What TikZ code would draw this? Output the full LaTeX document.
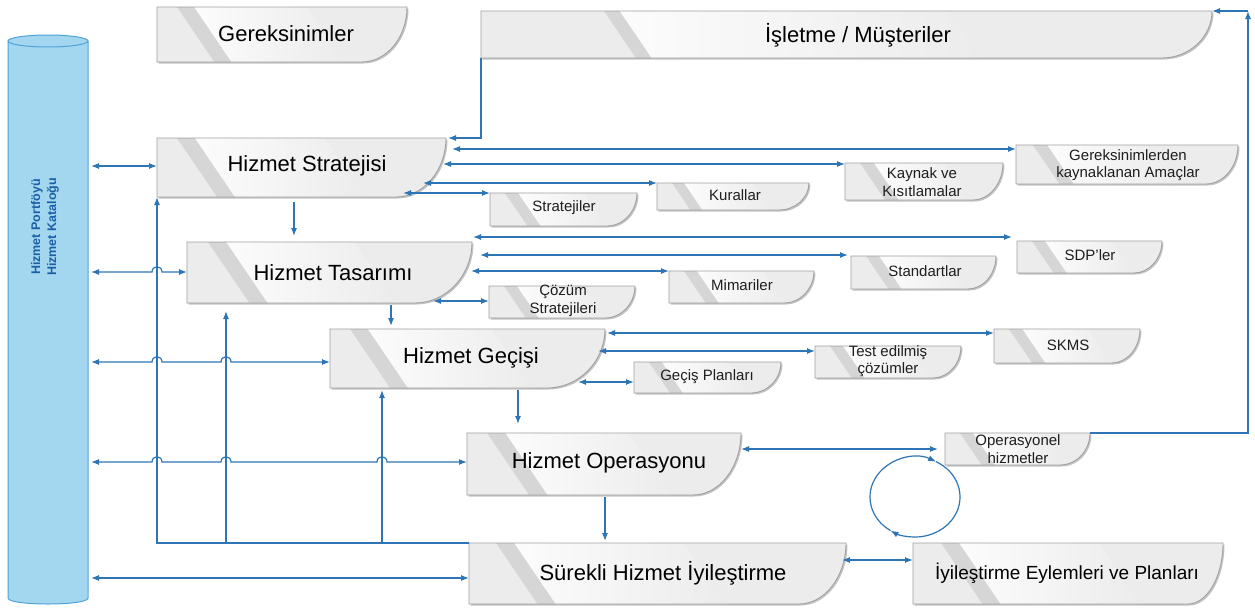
\documentclass[tikz,border=0pt]{standalone}
\usepackage{fontspec}
\setmainfont{Liberation Sans}
\usetikzlibrary{arrows.meta,calc}

\definecolor{conncol}{HTML}{2E75B6}
\definecolor{boxline}{HTML}{A0A0A0}
\definecolor{boxfill}{HTML}{ECECEC}
\definecolor{boxstripe}{HTML}{D6D6D6}
\definecolor{boxlight}{HTML}{FCFCFC}
\definecolor{boxshadow}{HTML}{C4C4C4}
\definecolor{cylfill}{HTML}{A3D7EF}
\definecolor{cylline}{HTML}{4FA3D9}
\definecolor{cyltext}{HTML}{1B5FA6}
\definecolor{txtcol}{HTML}{1E1E1E}

% Document-like box: straight left/top/bottom, curved lower-right corner.
% #1 name, #2 x0, #3 y0, #4 x1, #5 y1, #6 curve width, #7 stripe offset
\newcommand\docbox[7]{%
  \pgfmathsetmacro\dbh{#5-#3}%
  \pgfmathsetmacro\dbce{#4-#6}%
  \pgfmathsetmacro\dbka{#3+0.55*\dbh}%
  \pgfmathsetmacro\dbkb{#4-0.45*#6}%
  \pgfmathsetmacro\dbsa{#2+#7}%
  \pgfmathsetmacro\dbsw{7+0.18*\dbh}%
  \pgfmathsetmacro\dbsl{0.68*\dbh}%
  \pgfmathsetmacro\dbhl{0.45*(#4-#2)}%
  \pgfmathsetmacro\dbw{#4-#2}%
  \def\dbshape##1{\path[##1] (#2,#3) -- (#4,#3) .. controls (#4,\dbka) and (\dbkb,#5) .. (\dbce,#5) -- (#2,#5) -- cycle;}%
  \dbshape{fill=boxshadow, shift={(1.5,1.5)}}%
  \begin{scope}
    \dbshape{clip}%
    \fill[boxfill] (#2,#3) rectangle (#4,#5);
    \shade[left color=boxlight, right color=boxfill]
      (\dbsa+\dbsw,#3) -- (\dbsa+\dbsw+\dbhl,#3) -- (\dbsa+\dbsw+\dbhl+\dbsl,#5) -- (\dbsa+\dbsw+\dbsl,#5) -- cycle;
    \fill[boxstripe]
      (\dbsa,#3) -- (\dbsa+\dbsw,#3) -- (\dbsa+\dbsw+\dbsl,#5) -- (\dbsa+\dbsl,#5) -- cycle;
  \end{scope}
  \dbshape{draw=boxline, line width=0.9pt}%
  \node[inner sep=0pt, outer sep=0pt, minimum width=\dbw pt, minimum height=\dbh pt]
    (#1) at ({(#2+#4)/2},{(#3+#5)/2}) {};%
}

\tikzset{
  conn/.style={draw=conncol, line width=1.2pt, >={Latex[length=8pt,width=6pt]}},
  bigtxt/.style={inner sep=0pt, text=black, font=\fontsize{22}{26}\selectfont},
  smalltxt/.style={inner sep=0pt, text=txtcol, align=center, font=\fontsize{15}{17.5}\selectfont},
}

\begin{document}
\begin{tikzpicture}[x=1pt, y=-1pt]
\useasboundingbox (0,0) rectangle (1255,608);
\fill[white] (0,0) rectangle (1255,608);

% ---- portfolio / catalogue cylinder ----
\fill[cylfill] (8,41) rectangle (88,598);
\fill[cylfill] (48,598) ellipse [x radius=40, y radius=6];
\draw[cylline, line width=1pt] (8,41) -- (8,598) .. controls (8,606) and (88,606) .. (88,598) -- (88,41);
\draw[cylline, line width=1pt, fill=cylfill] (48,41) ellipse [x radius=40, y radius=6];
\node[inner sep=0pt, minimum width=80pt, minimum height=557pt] (cyl) at (48,320) {};
\node[rotate=90, inner sep=0pt, align=center, text=cyltext,
      font=\bfseries\fontsize{12.5}{16}\selectfont] (cyl-l) at (45,227)
      {Hizmet Portföyü\\Hizmet Kataloğu};

% ---- main boxes ----
\docbox{ger}{157}{7}{407}{62}{45}{20}
\docbox{isl}{481}{11}{1212}{58}{50}{123}
\docbox{strat}{157}{138}{446}{197}{50}{20}
\docbox{tas}{187}{242}{472}{303}{57}{21}
\docbox{gec}{330}{329}{605}{388}{58}{20}
\docbox{ops}{467}{433}{741}{495}{48}{20}
\docbox{sur}{469}{543}{846}{604}{47}{27}
\docbox{iyi}{913}{543}{1223}{604}{35}{28}

% ---- output boxes ----
\docbox{str}{490}{193}{637}{226}{30}{15}
\docbox{kur}{657}{183}{809}{210}{30}{15}
\docbox{kay}{845}{163}{1003}{200}{30}{15}
\docbox{gam}{1016}{145}{1238}{184}{32}{17}
\docbox{sdp}{1017}{241}{1162}{273}{28}{15}
\docbox{std}{851}{256}{996}{289}{28}{15}
\docbox{mim}{669}{271}{814}{303}{30}{15}
\docbox{coz}{489}{286}{635}{318}{30}{15}
\docbox{skms}{994}{329}{1140}{363}{28}{15}
\docbox{test}{815}{346}{961}{378}{28}{15}
\docbox{gp}{634}{362}{781}{393}{30}{15}
\docbox{opr}{945}{433}{1090}{465}{30}{15}

% ---- texts ----
\node[bigtxt] (ger-l) at (286,34) {Gereksinimler};
\node[bigtxt] (isl-l) at (858,35) {İşletme / Müşteriler};
\node[bigtxt] (strat-l) at (307,166) {Hizmet Stratejisi};
\node[bigtxt] (tas-l) at (333,273) {Hizmet Tasarımı};
\node[bigtxt] (gec-l) at (471,358) {Hizmet Geçişi};
\node[bigtxt] (ops-l) at (609,463) {Hizmet Operasyonu};
\node[bigtxt] (sur-l) at (663,573) {Sürekli Hizmet İyileştirme};
\node[bigtxt, font=\fontsize{19}{23}\selectfont] (iyi-l) at (1067,573) {İyileştirme Eylemleri ve Planları};

\node[smalltxt] (str-l) at (564,208) {Stratejiler};
\node[smalltxt] (kur-l) at (735,195) {Kurallar};
\node[smalltxt] (kay-l) at (922,182) {Kaynak ve\\Kısıtlamalar};
\node[smalltxt] (gam-l) at (1128,165) {Gereksinimlerden\\kaynaklanan Amaçlar};
\node[smalltxt] (sdp-l) at (1090,255) {SDP'ler};
\node[smalltxt] (std-l) at (925,271) {Standartlar};
\node[smalltxt] (mim-l) at (742,285) {Mimariler};
\node[smalltxt] (coz-l) at (563,301) {Çözüm\\Stratejileri};
\node[smalltxt] (skms-l) at (1068,345) {SKMS};
\node[smalltxt] (test-l) at (888,361) {Test edilmiş\\çözümler};
\node[smalltxt] (gp-l) at (707,377) {Geçiş Planları};
\node[smalltxt] (opr-l) at (1018,449) {Operasyonel\\hizmetler};

% ---- strategy outputs ----
\coordinate (sIn) at (448,138);
\draw[conn,->] (isl.south west) |- (sIn);
\coordinate (s1) at (452,149);
\draw[conn,<->] (s1) -- (gam.west |- s1);
\coordinate (s2) at (443,164);
\draw[conn,<->] (s2) -- (kay.west |- s2);
\coordinate (s3) at (423,183);
\draw[conn,<->] (s3) -- (kur.west |- s3);
\coordinate (s4) at (403,193);
\draw[conn,<->] (s4) -- (str.west |- s4);

% ---- design outputs ----
\coordinate (t1) at (473,237);
\draw[conn,<->] (t1) -- ($(sdp.west |- t1)+(-5,0)$);
\coordinate (t2) at (480,255);
\draw[conn,<->] (t2) -- ($(std.west |- t2)+(-3,0)$);
\coordinate (t3) at (471,271);
\draw[conn,<->] (t3) -- (mim.west |- t3);
\coordinate (t4) at (433,301);
\draw[conn,<->] (t4) -- (coz.west |- t4);

% ---- transition outputs ----
\coordinate (g1) at (607,333);
\draw[conn,<->] (g1) -- (skms.west |- g1);
\coordinate (g2) at (598,351);
\draw[conn,<->] (g2) -- (test.west |- g2);
\coordinate (g3) at (578,382);
\draw[conn,<->] (g3) -- (gp.west |- g3);

% ---- operation and improvement outputs ----
\coordinate (o1) at (741,449);
\draw[conn,<->] (o1) -- ($(opr.west |- o1)+(-7,0)$);
\coordinate (u1) at (842,560);
\draw[conn,<->] (u1) -- (iyi.west |- u1);

% ---- feedback to business ----
\coordinate (rc) at (1248,11);
\draw[conn,->] (opr.north east) -- (opr.north east -| rc) -- (rc);
\draw[conn,->] (rc) -- (isl.north east);

% ---- lifecycle flow ----
\draw[conn,->] ($(strat.south west)+(137,5)$) -- ($(tas.north west)+(107,-6)$);
\draw[conn,->] ($(tas.south west)+(204,2)$) -- ($(gec.north west)+(61,-3)$);
\draw[conn,->] ($(gec.south west)+(188,2)$) -- ($(ops.north west)+(51,-9)$);
\draw[conn,->] ($(ops.south west)+(138,2)$) -- ($(sur.north west)+(136,-2)$);

% ---- improvement feedback bus ----
\coordinate (tasIn) at ($(tas.south west)+(39,8)$);
\coordinate (gecIn) at ($(gec.south west)+(52,2)$);
\draw[conn,->] (sur.north west) -| (strat.south west);
\draw[conn,->] (sur.north west -| tasIn) -- (tasIn);
\draw[conn,->] (sur.north west -| gecIn) -- (gecIn);

% ---- links to the portfolio, hopping over the bus lines ----
\coordinate (k1) at (91,166);
\draw[conn,<->] (k1) -- (strat.west |- k1);
\coordinate (k2) at (91,272);
\draw[conn,<->] (k2) -- (152,272) .. controls (152,265) and (162,265) .. (162,272)
  -- (tas.west |- k2);
\coordinate (k3) at (91,362);
\draw[conn,<->] (k3) -- (152,362) .. controls (152,355) and (162,355) .. (162,362)
  -- (221,362) .. controls (221,355) and (231,355) .. (231,362)
  -- (gec.west |- k3);
\coordinate (k4) at (91,462);
\draw[conn,<->] (k4) -- (152,462) .. controls (152,455) and (162,455) .. (162,462)
  -- (221,462) .. controls (221,455) and (231,455) .. (231,462)
  -- (377,462) .. controls (377,455) and (387,455) .. (387,462)
  -- (ops.west |- k4);
\coordinate (k5) at (91,578);
\draw[conn,<->] (k5) -- (sur.west |- k5);

% ---- continual cycle ----
\coordinate (loopc) at (915,497);
\begin{scope}[shift={(loopc)}, y=1pt]
  \draw[conn,->] (237:45 and 40) arc[start angle=237, end angle=62, x radius=45, y radius=40];
  \draw[conn,->] (62:45 and 40) arc[start angle=62, end angle=-123, x radius=45, y radius=40];
\end{scope}
\end{tikzpicture}
\end{document}
